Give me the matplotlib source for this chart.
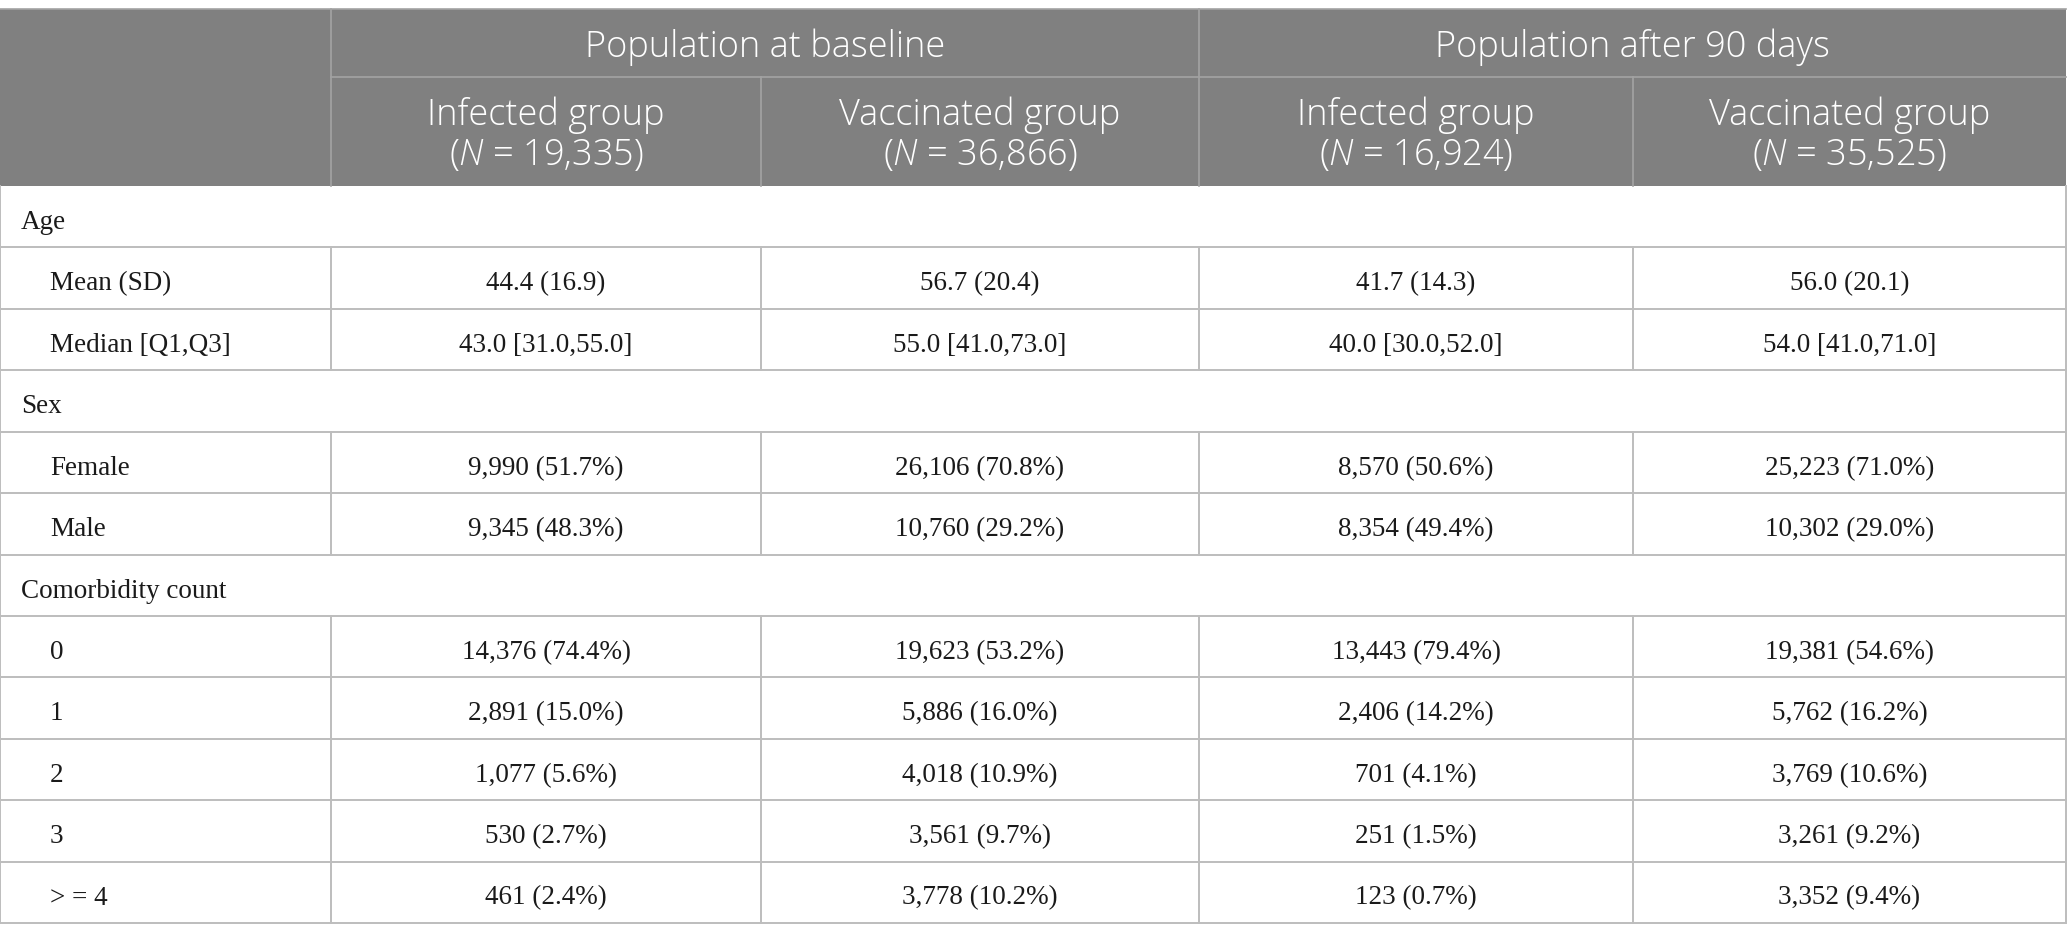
import matplotlib.pyplot as plt
from matplotlib.patches import Rectangle

plt.rcParams['mathtext.fontset'] = 'custom'
plt.rcParams['mathtext.rm'] = 'Open Sans:light'
plt.rcParams['mathtext.it'] = 'Open Sans:italic:light'

# Datos de la tabla
group_titles = ["Population at baseline", "Population after 90 days"]
sub_titles = ["Infected group", "Vaccinated group", "Infected group", "Vaccinated group"]
n_values = ["19,335", "36,866", "16,924", "35,525"]

age_mean = ["44.4 (16.9)", "56.7 (20.4)", "41.7 (14.3)", "56.0 (20.1)"]
age_median = ["43.0 [31.0,55.0]", "55.0 [41.0,73.0]", "40.0 [30.0,52.0]", "54.0 [41.0,71.0]"]
sex_female = ["9,990 (51.7%)", "26,106 (70.8%)", "8,570 (50.6%)", "25,223 (71.0%)"]
sex_male = ["9,345 (48.3%)", "10,760 (29.2%)", "8,354 (49.4%)", "10,302 (29.0%)"]
comorb_0 = ["14,376 (74.4%)", "19,623 (53.2%)", "13,443 (79.4%)", "19,381 (54.6%)"]
comorb_1 = ["2,891 (15.0%)", "5,886 (16.0%)", "2,406 (14.2%)", "5,762 (16.2%)"]
comorb_2 = ["1,077 (5.6%)", "4,018 (10.9%)", "701 (4.1%)", "3,769 (10.6%)"]
comorb_3 = ["530 (2.7%)", "3,561 (9.7%)", "251 (1.5%)", "3,261 (9.2%)"]
comorb_4 = ["461 (2.4%)", "3,778 (10.2%)", "123 (0.7%)", "3,352 (9.4%)"]

body_rows = [
    ("Age", None),
    ("Mean (SD)", age_mean),
    ("Median [Q1,Q3]", age_median),
    ("Sex", None),
    ("Female", sex_female),
    ("Male", sex_male),
    ("Comorbidity count", None),
    ("0", comorb_0),
    ("1", comorb_1),
    ("2", comorb_2),
    ("3", comorb_3),
    ("> = 4", comorb_4),
]

# Geometría en píxeles
W, H = 2068, 942
col_x = [0, 331, 761, 1199, 1633, 2066]
top, mid, head_bot = 9, 77, 186
row_h = (923 - head_bot) / len(body_rows)

header_bg = "#808080"
header_line = "#a3a3a3"
grid = "#bdbdbd"
serif = "Liberation Serif"
sans = "Open Sans"
head_size = 26
body_size = 19.5

fig = plt.figure(figsize=(W / 100, H / 100), dpi=100)
ax = fig.add_axes([0, 0, 1, 1])
ax.set_xlim(0, W)
ax.set_ylim(H, 0)
ax.axis('off')

# Cabecera
ax.add_patch(Rectangle((col_x[0], top), col_x[-1] - col_x[0], head_bot - top,
                       facecolor=header_bg, edgecolor='none'))
ax.plot([col_x[0], col_x[-1]], [top, top], color=header_line, lw=1.2)
ax.plot([col_x[1], col_x[-1]], [mid, mid], color=header_line, lw=1.2)
for x in [col_x[1], col_x[3]]:
    ax.plot([x, x], [top, head_bot], color=header_line, lw=1.2)
for x in [col_x[2], col_x[4]]:
    ax.plot([x, x], [mid, head_bot], color=header_line, lw=1.2)

for i, title in enumerate(group_titles):
    cx = (col_x[1 + 2 * i] + col_x[3 + 2 * i]) / 2
    ax.text(cx, 57, title, ha='center', va='baseline',
            color='white', fontsize=head_size, family=sans, fontweight='light')

for i, (st, n) in enumerate(zip(sub_titles, n_values)):
    cx = (col_x[i + 1] + col_x[i + 2]) / 2
    ax.text(cx, 125, st, ha='center', va='baseline',
            color='white', fontsize=head_size, family=sans, fontweight='light')
    ax.text(cx, 165, "(" + r"$N$" + " = " + n + ")", ha='center', va='baseline',
            color='white', fontsize=head_size, family=sans, fontweight='light')

# Cuerpo
for r, (label, values) in enumerate(body_rows):
    y0 = head_bot + r * row_h
    y1 = y0 + row_h
    yb = y0 + 43
    ax.plot([col_x[0], col_x[-1]], [y1, y1], color=grid, lw=1.4)
    ax.plot([col_x[0], col_x[0]], [y0, y1], color=grid, lw=1.4)
    ax.plot([col_x[-1], col_x[-1]], [y0, y1], color=grid, lw=1.4)
    if values is None:
        ax.text(21, yb, label, ha='left', va='baseline', fontsize=body_size,
                family=serif, color='#1a1a1a')
        continue
    for x in col_x[1:-1]:
        ax.plot([x, x], [y0, y1], color=grid, lw=1.4)
    ax.text(50, yb, label, ha='left', va='baseline', fontsize=body_size,
            family=serif, color='#1a1a1a')
    for c, v in enumerate(values):
        cx = (col_x[c + 1] + col_x[c + 2]) / 2
        ax.text(cx, yb, v, ha='center', va='baseline', fontsize=body_size,
                family=serif, color='#1a1a1a')

fig.savefig("out.png", dpi=100, facecolor='white')
